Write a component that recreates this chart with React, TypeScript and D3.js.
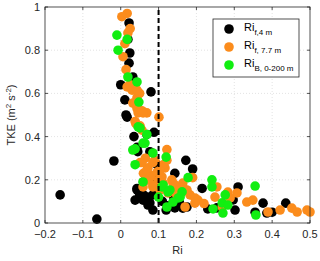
import * as d3 from "d3";

// values
const blackRi = [-0.16, -0.063, -0.018, 0.0, 0.011, 0.014, 0.017, 0.019, 0.022, 0.024, 0.022, 0.032, 0.08, 0.035, 0.088, 0.069, 0.043, 0.045, 0.043, 0.051, 0.077, 0.096, 0.077, 0.096, 0.072, 0.06, 0.09, 0.11, 0.125, 0.143, 0.172, 0.19, 0.215, 0.143, 0.175, 0.155, 0.31, 0.297, 0.302, 0.23, 0.254, 0.376, 0.386, 0.436, 0.355, 0.4, 0.14, 0.12, 0.06, 0.085, 0.043, 0.059, 0.038, 0.085, 0.148, 0.164, 0.05, 0.07];
const blackTke = [0.13, 0.018, 0.287, 0.64, 0.57, 0.5, 0.49, 0.85, 0.926, 0.787, 0.74, 0.676, 0.607, 0.4, 0.42, 0.41, 0.35, 0.33, 0.16, 0.116, 0.093, 0.16, 0.33, 0.27, 0.083, 0.13, 0.2, 0.1, 0.08, 0.23, 0.29, 0.25, 0.16, 0.07, 0.074, 0.095, 0.167, 0.107, 0.06, 0.065, 0.07, 0.092, 0.046, 0.092, 0.05, 0.05, 0.12, 0.06, 0.19, 0.06, 0.153, 0.106, 0.106, 0.13, 0.097, 0.069, 0.13, 0.12];

const orangeRi = [0.017, 0.003, 0.025, 0.019, 0.011, 0.006, 0.014, 0.017, 0.03, 0.043, 0.032, 0.051, 0.069, 0.043, 0.101, 0.025, 0.05, 0.059, 0.038, 0.051, 0.122, 0.051, 0.072, 0.096, 0.117, 0.069, 0.085, 0.135, 0.148, 0.112, 0.109, 0.143, 0.164, 0.19, 0.183, 0.196, 0.204, 0.196, 0.17, 0.254, 0.249, 0.283, 0.307, 0.289, 0.333, 0.349, 0.389, 0.421, 0.452, 0.466, 0.492, 0.5, 0.268, 0.06, 0.08, 0.1, 0.065, 0.09, 0.22, 0.043, 0.038, 0.046, 0.056, 0.04, 0.056, 0.056, 0.085, 0.069, 0.104, 0.122, 0.069, 0.085, 0.077, 0.112, 0.138, 0.164, 0.104, 0.125, 0.148, 0.175, 0.059];
const orangeTke = [0.97, 0.955, 0.9, 0.88, 0.83, 0.77, 0.71, 0.63, 0.615, 0.58, 0.555, 0.52, 0.51, 0.53, 0.49, 0.64, 0.6, 0.51, 0.47, 0.45, 0.34, 0.28, 0.255, 0.236, 0.255, 0.21, 0.176, 0.2, 0.144, 0.27, 0.213, 0.176, 0.185, 0.21, 0.13, 0.116, 0.106, 0.092, 0.074, 0.167, 0.12, 0.143, 0.139, 0.116, 0.097, 0.106, 0.051, 0.06, 0.069, 0.051, 0.06, 0.051, 0.074, 0.23, 0.22, 0.2, 0.3, 0.29, 0.09, 0.615, 0.556, 0.51, 0.52, 0.46, 0.43, 0.28, 0.28, 0.245, 0.245, 0.29, 0.2, 0.167, 0.21, 0.185, 0.185, 0.167, 0.153, 0.139, 0.13, 0.153, 0.167];

const greenRi = [-0.01, 0.017, -0.007, 0.019, 0.043, 0.048, 0.046, 0.069, 0.059, 0.038, 0.085, 0.038, 0.059, 0.12, 0.109, 0.13, 0.122, 0.112, 0.125, 0.162, 0.152, 0.138, 0.178, 0.241, 0.241, 0.276, 0.268, 0.283, 0.244, 0.27, 0.355, 0.357, 0.157, 0.1, 0.064, 0.032, 0.051];
const greenTke = [0.87, 0.85, 0.8, 0.676, 0.653, 0.56, 0.445, 0.41, 0.37, 0.343, 0.324, 0.27, 0.19, 0.305, 0.167, 0.153, 0.074, 0.176, 0.144, 0.144, 0.116, 0.097, 0.21, 0.2, 0.167, 0.13, 0.093, 0.083, 0.065, 0.046, 0.171, 0.037, 0.12, 0.12, 0.37, 0.338, 0.44];

const xTicks = [-0.2, -0.1, 0, 0.1, 0.2, 0.3, 0.4, 0.5];
const yTicks = [0, 0.2, 0.4, 0.6, 0.8, 1];
const threshold = 0.1;

const series = [
  { name: "Ri", sub: "f,4 m", color: "#000000", xs: blackRi, ys: blackTke },
  { name: "Ri", sub: "f, 7.7 m", color: "#fb8c1c", xs: orangeRi, ys: orangeTke },
  { name: "Ri", sub: "B, 0-200 m", color: "#11ee11", xs: greenRi, ys: greenTke },
];

const font = "Liberation Sans, Arial, sans-serif";
const axisColor = "#262626";

export default function App() {
  const width = 320;
  const height = 261;
  const left = 45, right = 310, top = 7, bottom = 223;

  const x = d3.scaleLinear().domain([-0.2, 0.5]).range([left, right]);
  const y = d3.scaleLinear().domain([0, 1]).range([bottom, top]);
  const fmt = (v: number) => (Math.abs(v) < 1e-9 ? "0" : d3.format("~g")(+v.toFixed(1)));

  return (
    <div style={{ position: "absolute", left: 0, top: 0 }}>
      <svg width={width} height={height} style={{ display: "block", background: "#fff" }}>
        {/* grid */}
        {xTicks.slice(1, -1).map((t) => (
          <line key={"gx" + t} x1={x(t)} x2={x(t)} y1={top} y2={bottom} stroke="#dcdcdc" strokeWidth={0.8} strokeDasharray="1,2" />
        ))}
        {yTicks.slice(1, -1).map((t) => (
          <line key={"gy" + t} x1={left} x2={right} y1={y(t)} y2={y(t)} stroke="#dcdcdc" strokeWidth={0.8} strokeDasharray="1,2" />
        ))}

        {/* points */}
        {series.map((s) =>
          s.xs.map((v, i) => (
            <circle key={s.sub + i} cx={x(v)} cy={y(s.ys[i])} r={4.8} fill={s.color} />
          ))
        )}

        {/* threshold */}
        <line x1={x(threshold)} x2={x(threshold)} y1={y(0)} y2={y(1)} stroke="#000" strokeWidth={2} strokeDasharray="5,3" />

        {/* box + ticks */}
        <rect x={left} y={top} width={right - left} height={bottom - top} fill="none" stroke={axisColor} strokeWidth={0.8} />
        {xTicks.map((t) => (
          <g key={"tx" + t}>
            <line x1={x(t)} x2={x(t)} y1={bottom} y2={bottom - 3} stroke={axisColor} strokeWidth={0.8} />
            <line x1={x(t)} x2={x(t)} y1={top} y2={top + 3} stroke={axisColor} strokeWidth={0.8} />
            <text x={x(t)} y={bottom + 15} textAnchor="middle" fontSize={11} fontFamily={font} fill={axisColor}>
              {fmt(t)}
            </text>
          </g>
        ))}
        {yTicks.map((t) => (
          <g key={"ty" + t}>
            <line x1={left} x2={left + 3} y1={y(t)} y2={y(t)} stroke={axisColor} strokeWidth={0.8} />
            <line x1={right} x2={right - 3} y1={y(t)} y2={y(t)} stroke={axisColor} strokeWidth={0.8} />
            <text x={left - 5} y={y(t) + 4} textAnchor="end" fontSize={11} fontFamily={font} fill={axisColor}>
              {fmt(t)}
            </text>
          </g>
        ))}

        {/* axis labels */}
        <text x={(left + right) / 2} y={254} textAnchor="middle" fontSize={11} fontFamily={font} fill={axisColor}>
          Ri
        </text>
        <text transform={`translate(15,${(top + bottom) / 2}) rotate(-90)`} textAnchor="middle" fontSize={11} fontFamily={font} fill={axisColor}>
          TKE (m<tspan dy={-4} fontSize={8}>2</tspan>
          <tspan dy={4}> s</tspan>
          <tspan dy={-4} fontSize={8}>-2</tspan>
          <tspan dy={4}>)</tspan>
        </text>

        {/* legend */}
        <rect x={213} y={19} width={86} height={58} fill="#fff" stroke={axisColor} strokeWidth={0.8} />
        {series.map((s, i) => (
          <g key={"lg" + i} transform={`translate(0,${29 + i * 18})`}>
            <circle cx={229} cy={0} r={4.8} fill={s.color} />
            <text x={244} y={2} fontSize={11} fontFamily={font} fill="#000">
              {s.name}
              <tspan dy={4} fontSize={8}>{s.sub}</tspan>
            </text>
          </g>
        ))}
      </svg>
    </div>
  );
}
